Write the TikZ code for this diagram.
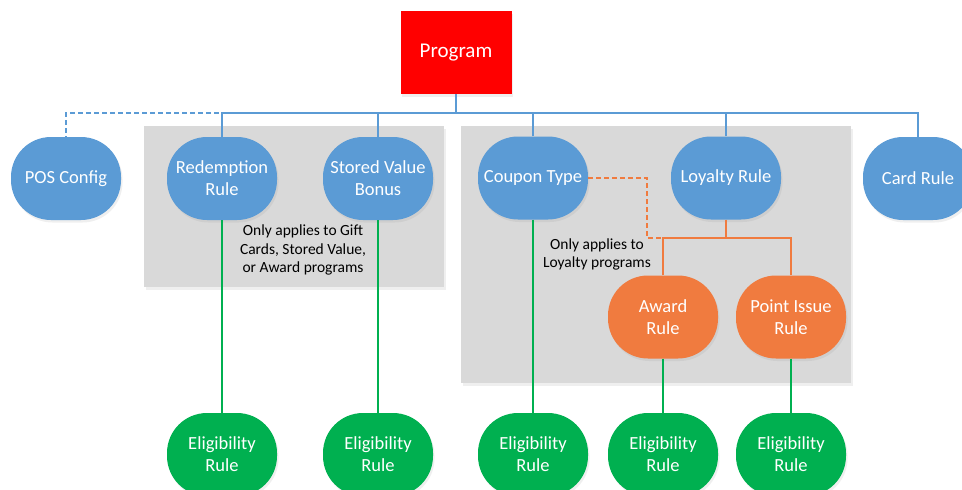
\documentclass[tikz,border=0pt]{standalone}
\usepackage{fontspec}
\setmainfont{Carlito}
\usetikzlibrary{shadows}
\definecolor{cblue}{HTML}{5B9BD5}
\definecolor{corange}{HTML}{F07B3F}
\definecolor{cgreen}{HTML}{00B050}
\definecolor{cred}{HTML}{FF0000}
\definecolor{cgray}{HTML}{D9D9D9}
\tikzset{
  shad/.style={drop shadow={opacity=0.12, shadow xshift=1.5pt, shadow yshift=-2.5pt}},
  pill/.style={shad, minimum width=110pt, minimum height=83pt, rounded corners=40pt,
    inner sep=0pt, align=center, text=white, font=\fontsize{18.5}{22}\selectfont},
  bluepill/.style={pill, fill=cblue},
  orangepill/.style={pill, fill=corange},
  greenpill/.style={pill, fill=cgreen},
  progbox/.style={shad, fill=cred, minimum width=111pt, minimum height=83pt, inner sep=0pt,
    text=white, font=\fontsize{21}{24}\selectfont},
  graybox/.style={fill=cgray, shad},
  note/.style={align=center, text=black, inner sep=0pt, font=\fontsize{15.5}{18.5}\selectfont},
  bline/.style={draw=cblue, line width=2.5pt},
  gline/.style={draw=cgreen, line width=2.5pt},
  oline/.style={draw=corange, line width=2.5pt},
  dashline/.style={dash pattern=on 5pt off 3pt},
}
\begin{document}
\begin{tikzpicture}[x=1pt, y=-1pt]
\useasboundingbox (0,0) rectangle (962,490);
\fill[white] (0,0) rectangle (962,490);
% gray group boxes
\path[graybox] (144,126) rectangle (444,287);
\path[graybox] (461,126) rectangle (851,383);
% nodes
\node[progbox] (prog) at (456,52.5) {Program};
\node[bluepill] (pos) at (66,178.5) {POS Config};
\node[bluepill] (red) at (222,178.5) {Redemption\\Rule};
\node[bluepill] (svb) at (378,178.5) {Stored Value\\Bonus};
\node[bluepill] (cou) at (533,178) {Coupon Type};
\node[bluepill] (loy) at (726,178) {Loyalty Rule};
\node[bluepill] (card) at (918,178.5) {Card Rule};
\node[orangepill] (awd) at (663,317) {Award\\Rule};
\node[orangepill] (pir) at (791,317) {Point Issue\\Rule};
\node[greenpill] (e1) at (222,454.5) {Eligibility\\Rule};
\node[greenpill] (e2) at (378,454.5) {Eligibility\\Rule};
\node[greenpill] (e3) at (533,454.5) {Eligibility\\Rule};
\node[greenpill] (e4) at (663,454.5) {Eligibility\\Rule};
\node[greenpill] (e5) at (791,454.5) {Eligibility\\Rule};
% notes
\node[note] (n1) at (303,250) {Only applies to Gift\\Cards, Stored Value,\\or Award programs};
\node[note] (n2) at (597,254.5) {Only applies to\\Loyalty programs};
% bus coordinates
\coordinate (bus) at (456,113);
\coordinate (ob) at (726,238);
\coordinate (od) at (647,178);
% blue connectors
\draw[bline] (prog.south) -- (bus);
\draw[bline] (red.north) -- (red.north |- bus) -- (card.north |- bus) -- (card.north);
\draw[bline] (svb.north) -- (svb.north |- bus);
\draw[bline] (cou.north) -- (cou.north |- bus);
\draw[bline] (loy.north) -- (loy.north |- bus);
\draw[bline, dashline] ([yshift=-4pt]pos.north) -- (pos.north |- bus) -- (red.north |- bus);
% orange connectors
\draw[oline] (loy.south) -- (ob);
\draw[oline] (awd.north) -- (awd.north |- ob) -- (pir.north |- ob) -- (pir.north);
\draw[oline, dashline] (cou.east) -- (od) -- (od |- ob) -- (awd.north |- ob);
% green connectors
\draw[gline] (red.south) -- (e1.north);
\draw[gline] (svb.south) -- (e2.north);
\draw[gline] (cou.south) -- (e3.north);
\draw[gline] (awd.south) -- (e4.north);
\draw[gline] (pir.south) -- (e5.north);
\end{tikzpicture}
\end{document}
